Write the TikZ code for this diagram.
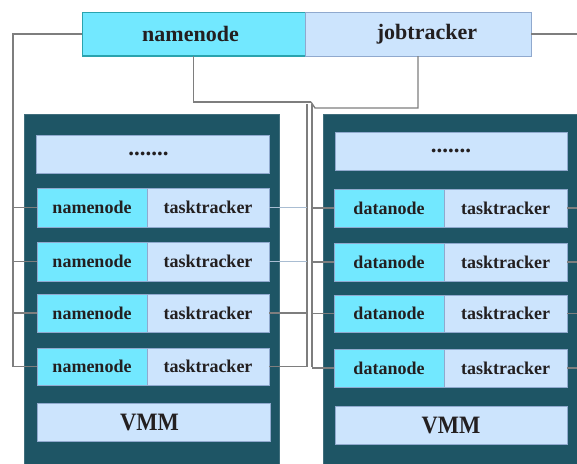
\documentclass[tikz,border=0pt]{standalone}
\usepackage{graphicx}
\usepackage{fontspec}
\setmainfont{Liberation Serif}
\definecolor{panelc}{HTML}{1E5565}
\definecolor{cyanc}{HTML}{72E8FF}
\definecolor{lbluec}{HTML}{CCE4FD}
\definecolor{bordc}{HTML}{90A9CE}
\definecolor{tealc}{HTML}{2AA3AE}
\definecolor{txtc}{HTML}{231F20}
\definecolor{linec}{HTML}{7E7E7E}
\definecolor{lightlinec}{HTML}{A9BDD2}
\begin{document}
\begin{tikzpicture}[x=1pt,y=-1pt,
  every node/.style={inner sep=0pt,outer sep=0pt,anchor=north west,text=txtc},
  panel/.style={fill=panelc,draw=panelc!85!white,line width=1pt},
  cbox/.style={fill=cyanc,draw=bordc,line width=1pt,font=\fontsize{18}{18}\selectfont\bfseries},
  lbox/.style={fill=lbluec,draw=bordc,line width=1pt,font=\fontsize{18}{18}\selectfont\bfseries},
  bigtext/.style={font=\fontsize{22}{22}\selectfont\bfseries},
  vmmtext/.style={font=\fontsize{25}{25}\selectfont\bfseries},
  conn/.style={draw=linec,line width=1.3pt},
  lconn/.style={draw=lightlinec,line width=1.1pt},
  bus/.style={draw=linec,line width=2pt}]
\useasboundingbox (0,0) rectangle (577,463);
\clip (0,0) rectangle (577,463);
% panels
\node[panel,minimum width=255pt,minimum height=360pt] (lp) at (24,114) {};
\node[panel,minimum width=270pt,minimum height=360pt] (rp) at (323,114) {};
% top boxes
\node[cbox,bigtext,draw=tealc,minimum width=223pt,minimum height=44pt] (nn) at (82,12) {namenode\hspace*{6pt}};
\node[lbox,bigtext,minimum width=226pt,minimum height=44pt] (jt) at (305,12) {\hspace*{18pt}jobtracker};
\draw[tealc,line width=2pt] (nn.south west) -- (nn.south east);
% coordinates
\coordinate (lbusTop) at (13,34);
\coordinate (lbusBot) at (13,367);
\coordinate (busA) at (307,104);
\coordinate (busAbot) at (307,367);
\coordinate (busB) at (312,104);
\coordinate (busBbot) at (312,367);
\coordinate (redge) at (580,0);
\coordinate (mjoin) at (311,102);
\coordinate (jjoin) at (315,108);
% top connectors
\draw[bus] (nn.west) -- (lbusTop) -- (lbusBot);
\draw[conn] (jt.east) -- (jt.east -| redge);
\draw[conn] (nn.south) |- (mjoin);
\draw[conn] (jt.south) |- (jjoin) -- (mjoin);
\draw[conn] (busA) -- (busAbot);
\draw[conn] (busB) -- (busBbot);
% dots boxes
\node[lbox,font=\fontsize{23}{23}\selectfont\bfseries,minimum width=233pt,minimum height=38pt] (ld) at (36,135) {.......\hspace*{8pt}};
\node[lbox,font=\fontsize{23}{23}\selectfont\bfseries,minimum width=232pt,minimum height=38pt] (rd) at (335,132) {.......};
% rows
\foreach \k/\yl/\hl/\yr/\hr in {1/188/39/189/38,2/242/39/243/38,3/294/38/295/37,4/348/37/349/38}{
  \node[cbox,minimum width=110pt,minimum height=\hl pt] (ln\k) at (37,\yl) {namenode};
  \node[lbox,minimum width=122pt,minimum height=\hl pt] (lt\k) at (147,\yl) {tasktracker};
  \node[cbox,minimum width=110pt,minimum height=\hr pt] (dn\k) at (334,\yr) {datanode};
  \node[lbox,minimum width=123pt,minimum height=\hr pt] (rt\k) at (444,\yr) {tasktracker};
}
% VMM
\node[lbox,vmmtext,minimum width=233pt,minimum height=38pt] (lv) at (37,403) {\scalebox{0.9}[1]{VMM}\hspace*{8pt}};
\node[lbox,vmmtext,minimum width=232pt,minimum height=38pt] (rv) at (335,406) {\scalebox{0.9}[1]{VMM}};
% stubs
\foreach \k in {1,2,3,4}{
  \draw[conn] (ln\k.west -| lbusTop) -- (ln\k.west);
  \draw[conn] (busB |- dn\k.west) -- (dn\k.west);
  \draw[conn] (rt\k.east) -- (rt\k.east -| redge);
}
\foreach \k in {1,2}{\draw[lconn] (lt\k.east) -- (lt\k.east -| busA);}
\foreach \k in {3,4}{\draw[conn] (lt\k.east) -- (lt\k.east -| busA);}
\end{tikzpicture}
\end{document}
